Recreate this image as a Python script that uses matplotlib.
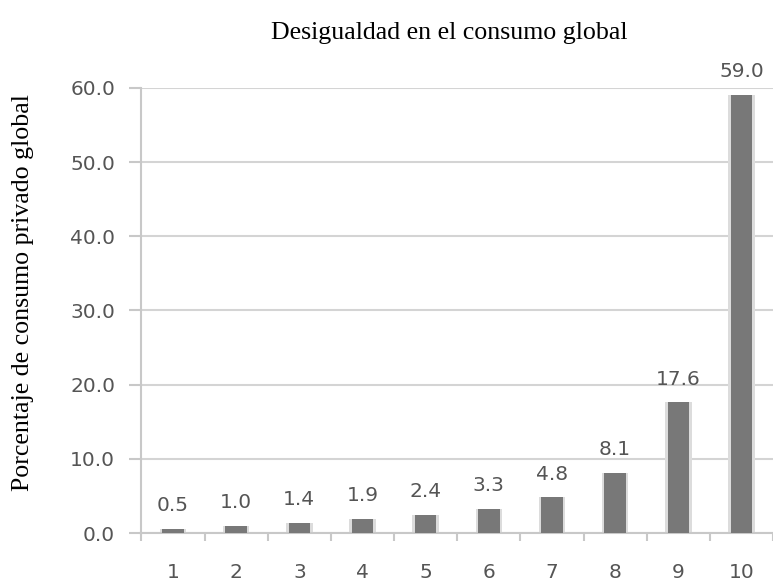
import matplotlib
matplotlib.use("Agg")
import matplotlib.pyplot as plt
import numpy as np

categories = ["1", "2", "3", "4", "5", "6", "7", "8", "9", "10"]
values = [0.5, 1.0, 1.4, 1.9, 2.4, 3.3, 4.8, 8.1, 17.6, 59.0]
yticks = [0, 10, 20, 30, 40, 50, 60]

fig = plt.figure(figsize=(7.73, 5.81), dpi=100)
ax = fig.add_axes([0.183, 0.0826, 0.817, 0.766])

x = np.arange(len(categories))
# soft shadow
ax.bar(x, values, width=0.42, color="#dcdcdc", zorder=2)
ax.bar(x, values, width=0.34, color="#787878", zorder=3)

ax.set_xlim(-0.5, len(categories) - 0.5)
ax.set_ylim(0, 60)
ax.set_yticks(yticks)
ax.set_yticklabels([f"{v:.1f}" for v in yticks])
ax.set_xticks(x)
ax.set_xticklabels(categories)
ax.set_xticks(np.arange(-0.5, len(categories), 1), minor=True)

ax.grid(axis="y", color="#d4d4d4", linewidth=1.5, zorder=0)
for s in ["top", "right"]:
    ax.spines[s].set_visible(False)
for s in ["left", "bottom"]:
    ax.spines[s].set_color("#c8c8c8")
    ax.spines[s].set_linewidth(1.5)

fs = 14.5
ax.tick_params(axis="x", which="major", length=0, pad=21.5, labelsize=fs, labelcolor="#555555")
ax.tick_params(axis="x", which="minor", length=6, width=1.5, color="#c8c8c8", direction="out")
ax.tick_params(axis="y", length=9, width=1.5, color="#c8c8c8", pad=10, labelsize=fs, labelcolor="#555555")

for xi, v in zip(x, values):
    ax.annotate(f"{v:.1f}", (xi, v), xytext=(0, 10), textcoords="offset points",
                ha="center", va="bottom", fontsize=fs, color="#555555",
                annotation_clip=False)

fig.text(0.5815, 0.943, "Desigualdad en el consumo global", ha="center", va="center",
         fontsize=18.6, family="Liberation Serif", color="#000000")
fig.text(0.03, 0.497, "Porcentaje de consumo privado global", ha="center", va="center",
         rotation=90, fontsize=18.6, family="Liberation Serif", color="#000000")

fig.savefig("out.png", dpi=100)
